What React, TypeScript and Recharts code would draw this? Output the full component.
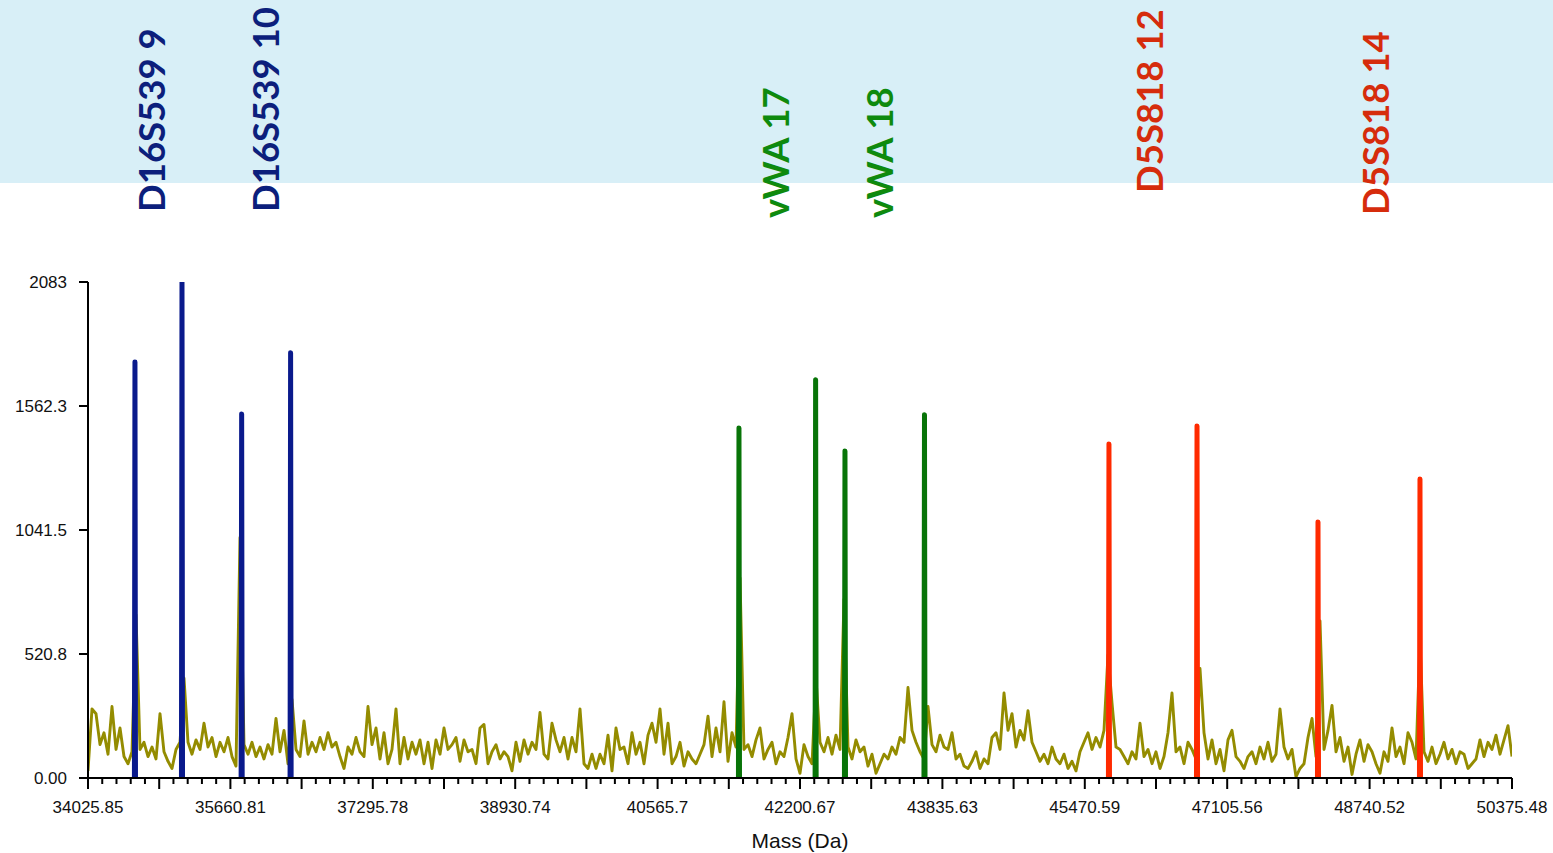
import React from "react";
import { LineChart, Line, XAxis, YAxis, ReferenceLine } from "recharts";

const X_MIN = 34025.85;
const X_MAX = 50375.48;

const xTicks = [
  34025.85, 35660.81, 37295.78, 38930.74, 40565.7, 42200.67,
  43835.63, 45470.59, 47105.56, 48740.52, 50375.48,
];
const yTicks = [0, 520.8, 1041.5, 1562.3, 2083];
const yTickLabels = ["0.00", "520.8", "1041.5", "1562.3", "2083"];

// baseline trace, evenly sampled from X_MIN to X_MAX
const noise = [
  30, 290, 270, 140, 190, 100, 300, 120, 210, 90,
  60, 110, 685, 120, 150, 90, 130, 80, 270, 110,
  70, 40, 120, 150, 420, 150, 100, 160, 120, 230,
  130, 170, 90, 150, 110, 170, 90, 50, 1010, 140,
  100, 150, 90, 130, 80, 140, 100, 250, 110, 200,
  60, 330, 120, 90, 240, 100, 150, 110, 170, 120,
  190, 130, 150, 90, 40, 130, 100, 170, 110, 90,
  300, 140,
  210, 80, 190, 60, 120, 290, 60, 170, 80, 150,
  100, 160, 60, 150, 40, 160, 100, 210, 120, 140,
  170, 70, 160, 110, 120, 60, 210, 225, 60, 110,
  140, 80, 110, 90, 30, 150, 70, 160, 100, 150,
  120, 275, 100, 80, 230, 160, 110, 170, 80, 170,
  110, 290, 60, 40, 100, 40, 100, 60, 180, 30,
  210, 120, 130, 60, 190, 100, 150, 60, 180, 230,
  150,
  290, 100, 230, 60, 90, 150, 50, 110, 80, 60,
  100, 140, 260, 90, 210, 110, 320, 70, 190, 130,
  840, 120, 140, 90, 160, 210, 80, 120, 150, 60,
  110, 90, 170, 270, 80, 20, 140, 90, 60, 420,
  150, 110, 170, 100, 180, 120, 750, 130, 80, 160,
  110, 130, 50, 100, 20, 60, 100, 80, 130, 100,
  170, 150, 380, 200, 150, 110, 80, 300, 140, 110,
  180, 130,
  120, 190, 80, 100, 50, 40, 70, 110, 40, 80,
  60, 170, 190, 120, 357, 200, 270, 130, 200, 160,
  283, 150, 110, 70, 100, 60, 130, 80, 60, 100,
  40, 70, 30, 110, 150, 190, 120, 170, 130, 200,
  517, 315, 130, 120, 90, 60, 110, 80, 230, 90,
  120, 60, 110, 40, 90, 190, 357, 110, 130, 60,
  150, 120, 80, 460, 190, 80, 160, 60, 120, 30,
  160,
  200, 90, 70, 40, 90, 110, 60, 130, 80, 150,
  70, 100, 290, 130, 80, 120, 5, 40, 60, 170,
  250, 90, 660, 120, 200, 305, 110, 170, 70, 130,
  15, 100, 160, 70, 140, 110, 60, 20, 110, 70,
  210, 90, 130, 60, 190, 150, 80, 580, 110, 70,
  130, 60, 100, 150, 80, 120, 60, 110, 100, 40,
  60, 80, 160, 90, 150, 120, 180, 100, 160, 220,
  90,
];

const peakMass = [
  34565, 35105, 35790, 36352, 41500, 42380, 42717, 43630,
  45748, 46759, 48148, 49319,
];
const peakHeight = [
  1747, 2083, 1529, 1786, 1470, 1672, 1373, 1525,
  1403, 1478, 1075, 1256,
];
const peakLocus = [0, 0, 0, 0, 1, 1, 1, 1, 2, 2, 2, 2];

const alleleNames = ["D16S539 9", "D16S539 10", "vWA 17", "vWA 18", "D5S818 12", "D5S818 14"];
const alleleMass = [34766, 36070, 41925, 43119, 46219, 48814];
const alleleLocus = [0, 0, 1, 1, 2, 2];

// layout / style
const peakColors = ["#0a1a8c", "#087408", "#ff2a00"];
const labelColors = ["#0c1f7c", "#0e8a0e", "#d62c0c"];
const labelBottom = [212, 212, 218, 218, 193, 215];
const AXIS_FONT = "'Liberation Sans', Arial, sans-serif";

const allTicks: number[] = [];
for (let i = 0; i < xTicks.length - 1; i++) {
  const step = (xTicks[i + 1] - xTicks[i]) / 10;
  for (let k = 0; k < 10; k++) allTicks.push(xTicks[i] + k * step);
}
allTicks.push(xTicks[xTicks.length - 1]);

const noiseData = noise.map((v, i) => ({
  m: X_MIN + (i * (X_MAX - X_MIN)) / (noise.length - 1),
  v,
}));

const peakData = peakMass.map((m, i) => [
  { m: m - 6, v: 0 },
  { m, v: peakHeight[i] },
  { m: m + 6, v: 0 },
]);

function XTick(props: any) {
  const { x, y, index } = props;
  const labeled = index % 10 === 0;
  const len = index % 5 === 0 ? 11 : 6;
  return (
    <g>
      <line x1={x} x2={x} y1={y} y2={y + len} stroke="#000" strokeWidth={2} />
      {labeled && (
        <text x={x} y={y + 35} textAnchor="middle" fontSize={17} fontFamily={AXIS_FONT} fill="#111">
          {String(xTicks[index / 10])}
        </text>
      )}
    </g>
  );
}

export default function App() {
  return (
    <div style={{ position: "absolute", left: 0, top: 0, width: 1553, height: 853, background: "#fff" }}>
      <div style={{ position: "absolute", left: 0, top: 0, width: 1553, height: 183, background: "#d8eff7" }} />
      <div style={{ position: "absolute", left: 0, top: 0 }}>
        <LineChart width={1553} height={853} margin={{ top: 282, right: 41, bottom: 0, left: 0 }}>
          <XAxis
            type="number"
            dataKey="m"
            domain={[X_MIN, X_MAX]}
            ticks={allTicks}
            interval={0}
            tickLine={false}
            tickSize={0}
            tickMargin={0}
            tick={<XTick />}
            axisLine={{ stroke: "#000", strokeWidth: 2 }}
            height={75}
            allowDataOverflow
            label={{ value: "Mass (Da)", position: "insideBottom", offset: 5, fontSize: 21, fill: "#111", fontFamily: AXIS_FONT }}
          />
          <YAxis
            type="number"
            domain={[0, 2083]}
            ticks={yTicks}
            interval={0}
            width={88}
            tickSize={9}
            tickMargin={12}
            tickFormatter={(v: number) => yTickLabels[yTicks.indexOf(v)]}
            tick={{ fill: "#111", fontSize: 17, fontFamily: AXIS_FONT }}
            tickLine={{ stroke: "#000", strokeWidth: 2 }}
            axisLine={{ stroke: "#000", strokeWidth: 2 }}
            allowDataOverflow
          />
          <Line
            data={noiseData}
            dataKey="v"
            stroke="#948c00"
            strokeWidth={2.9}
            strokeLinejoin="round"
            dot={false}
            activeDot={false}
            isAnimationActive={false}
          />
          {peakData.map((d, i) => (
            <Line
              key={i}
              data={d}
              dataKey="v"
              stroke={peakColors[peakLocus[i]]}
              strokeWidth={5}
              strokeLinejoin="round"
              strokeLinecap="round"
              dot={false}
              activeDot={false}
              isAnimationActive={false}
            />
          ))}
          {alleleNames.map((name, i) => (
            <ReferenceLine
              key={name}
              x={alleleMass[i]}
              stroke="none"
              ifOverflow="visible"
              shape={(p: any) => {
                const bx = p.x1 + 13;
                const by = labelBottom[i];
                return (
                  <text
                    x={bx}
                    y={by}
                    transform={`rotate(-90 ${bx} ${by})`}
                    fill={labelColors[alleleLocus[i]]}
                    fontSize={36.5}
                    fontWeight={700}
                    fontFamily="Lato, 'Open Sans', sans-serif"
                  >
                    {name}
                  </text>
                );
              }}
            />
          ))}
        </LineChart>
      </div>
    </div>
  );
}
